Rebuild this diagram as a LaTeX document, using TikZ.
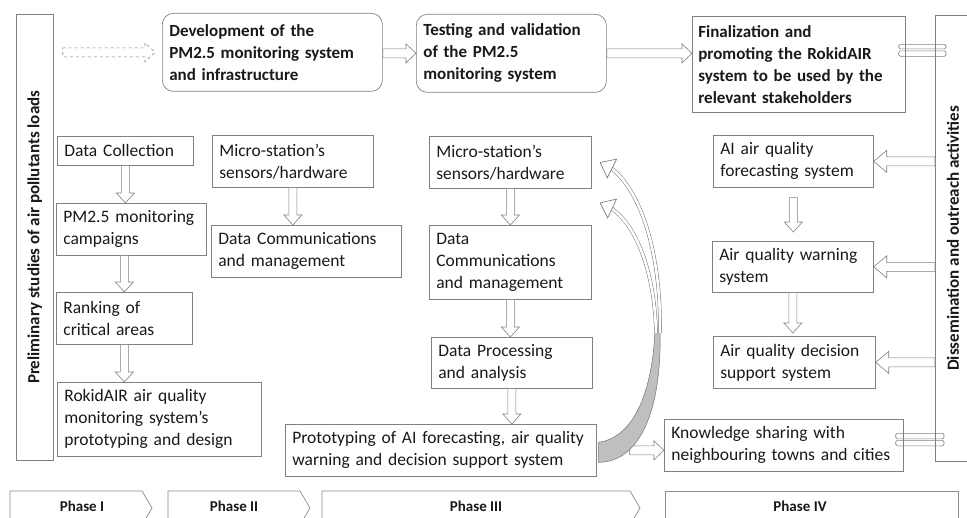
\documentclass[tikz,border=0pt]{standalone}
\usepackage{fontspec}
\setmainfont{Carlito}
\usepackage{graphicx}
\usetikzlibrary{arrows.meta,calc}

\tikzset{
  taskbox/.style={draw=black!50, line width=0.7pt, anchor=north west, align=left,
    inner xsep=7pt, inner ysep=3pt, text=black!90, font=\fontsize{17.5}{22}\selectfont,
    execute at begin node={\hyphenpenalty=10000}},
  stagebox/.style={taskbox, rounded corners=11pt, font=\fontsize{17}{22}\selectfont\bfseries},
  sidebox/.style={draw=black!50, line width=0.7pt, anchor=north west, inner sep=0pt,
    text=black!90, font=\fontsize{17}{20}\selectfont\bfseries},
  hollow/.style={draw=black!50, line width=0.6pt, fill=white},
  barline/.style={draw=black!50, line width=0.6pt, rounded corners=1.5pt},
  phaseline/.style={draw=black!45, line width=0.7pt},
  phaselabel/.style={text=black!90, font=\fontsize{15}{18}\selectfont\bfseries},
  bendarrow/.style={draw=black!55, line width=0.5pt, double=white, double distance=2.6pt},
  bendhead/.style={draw=black!55, line width=0.6pt, -{Triangle[length=14pt,width=22pt,fill=white]}},
}

% block arrows drawn between two anchors
\newcommand\hollowdown[2]{%
  \draw[hollow] let \p1=(#1), \p2=(#2) in
    (\x1-4pt,\y1) -- (\x1-4pt,\y2+10pt) -- (\x1-9pt,\y2+10pt) -- (\x1,\y2)
    -- (\x1+9pt,\y2+10pt) -- (\x1+4pt,\y2+10pt) -- (\x1+4pt,\y1) -- cycle;}
\newcommand\hollowright[3][]{%
  \draw[hollow,#1] let \p1=(#2), \p2=(#3) in
    (\x1,\y2+4.5pt) -- (\x2-10pt,\y2+4.5pt) -- (\x2-10pt,\y2+9.5pt) -- (\x2,\y2)
    -- (\x2-10pt,\y2-9.5pt) -- (\x2-10pt,\y2-4.5pt) -- (\x1,\y2-4.5pt) -- cycle;}
\newcommand\hollowleft[2]{%
  \draw[hollow] let \p1=(#1), \p2=(#2) in
    (\x1,\y2+4.5pt) -- (\x2+13pt,\y2+4.5pt) -- (\x2+13pt,\y2+11pt) -- (\x2,\y2)
    -- (\x2+13pt,\y2-11pt) -- (\x2+13pt,\y2-4.5pt) -- (\x1,\y2-4.5pt) -- cycle;}

\begin{document}
\begin{tikzpicture}[x=1pt,y=-1pt]
  \useasboundingbox (0,0) rectangle (967,518);

  % side bars
  \node[sidebox, minimum width=37pt, minimum height=446pt] (pre) at (16,14)
    {\rotatebox{90}{Preliminary studies of air pollutants loads}};
  \node[sidebox, minimum width=35pt, minimum height=446pt] (diss) at (935,15)
    {\rotatebox{90}{Dissemination and outreach activities}};

  % top row
  \node[stagebox, text width=206pt, minimum height=78pt] (dev) at (162,13)
    {Development of the\\PM2.5 monitoring system\\and infrastructure};
  \node[stagebox, text width=176pt, minimum height=78pt] (test) at (416,14)
    {Testing and validation\\of the PM2.5\\monitoring system};
  \node[taskbox, font=\fontsize{17}{22}\selectfont\bfseries, inner xsep=6pt,
    text width=201pt, minimum height=96pt] (final) at (692,16)
    {Finalization and\\promoting the RokidAIR\\system to be used by the\\relevant stakeholders};

  % phase I
  \node[taskbox, text width=122pt, minimum height=29pt] (collect) at (57,136) {Data Collection};
  \node[taskbox, text width=136pt, minimum height=52pt] (campaign) at (56,203) {PM2.5 monitoring\\campaigns};
  \node[taskbox, text width=122pt, minimum height=52pt] (rank) at (56,292) {Ranking of\\critical areas};
  \node[taskbox, text width=190pt, minimum height=74pt] (design) at (57,382)
    {RokidAIR air quality\\monitoring system’s\\prototyping and design};

  % phase II
  \node[taskbox, text width=147pt, minimum height=52pt] (sensorA) at (212,135) {Micro-station’s\\sensors/hardware};
  \node[taskbox, text width=176pt, minimum height=52pt] (commA) at (211,225) {Data Communications\\and management};

  % phase III
  \node[taskbox, text width=148pt, minimum height=52pt] (sensorB) at (429,136) {Micro-station’s\\sensors/hardware};
  \node[taskbox, text width=148pt, minimum height=74pt] (commB) at (429,225) {Data\\Communications\\and management};
  \node[taskbox, text width=147pt, minimum height=51pt] (process) at (431,337) {Data Processing\\and analysis};
  \node[taskbox, text width=297pt, minimum height=52pt] (proto) at (285,424)
    {Prototyping of AI forecasting, air quality\\warning and decision support system};

  % phase IV
  \node[taskbox, text width=146pt, minimum height=52pt] (forecast) at (713,135) {AI air quality\\forecasting system};
  \node[taskbox, text width=147pt, minimum height=51pt] (warning) at (712,241) {Air quality warning\\system};
  \node[taskbox, text width=148pt, minimum height=52pt] (decision) at (713,336) {Air quality decision\\support system};
  \node[taskbox, text width=225pt, minimum height=52pt] (share) at (664,419)
    {Knowledge sharing with\\neighbouring towns and cities};

  % flow along the top
  \hollowright[dashed]{$(pre.east |- dev.west)+(9,0)$}{$(dev.west)+(-7,0)$}
  \hollowright{dev.east}{test.west}
  \hollowright{test.east}{final.west |- test.east}

  % flow inside the columns
  \hollowdown{collect.south}{campaign.north}
  \hollowdown{campaign.south -| rank.north}{rank.north}
  \hollowdown{rank.south}{rank.south |- design.north}
  \hollowdown{sensorA.south}{commA.north}
  \hollowdown{sensorB.south}{commB.north}
  \hollowdown{commB.south}{process.north}
  \hollowdown{process.south}{proto.north -| process.south}
  \hollowdown{$(forecast.south)+(0,10)$}{$(warning.north)+(0,-9)$}
  \hollowdown{warning.south}{$(decision.north)+(0,-3)$}
  \hollowright{$(proto.east)+(33,0)$}{share.west |- proto.east}

  % dissemination
  \hollowleft{diss.west |- forecast.east}{forecast.east}
  \hollowleft{diss.west |- warning.east}{warning.east}
  \hollowleft{diss.west |- decision.east}{decision.east}
  \draw[barline] ($(final.east)+(-7,-20)$) rectangle ($(diss.west |- final.east)+(11,-15.5)$);
  \draw[barline] ($(final.east)+(-7,-13.5)$) rectangle ($(diss.west |- final.east)+(11,-8)$);
  \draw[barline] ($(share.east)+(-8,-12)$) rectangle ($(diss.west |- share.east)+(9,-6.5)$);
  \draw[barline] ($(share.east)+(-8,-5)$) rectangle ($(diss.west |- share.east)+(9,0.5)$);

  % feedback from the prototype
  \filldraw[fill=black!25, draw=black!55, line width=0.5pt]
    ($(proto.east)+(2,-8)$) .. controls (630,438) and (652,400) .. (655,330)
    -- (660,330) .. controls (662,410) and (640,462) .. ($(proto.east)+(2,12)$) -- cycle;
  \coordinate (neckA) at (611,168);
  \coordinate (neckB) at (611,208);
  \draw[bendarrow] (660,333) .. controls (661,250) and (640,190) .. (neckA);
  \draw[bendarrow] (656,333) .. controls (655,280) and (640,228) .. (neckB);
  \draw[bendhead] (neckA) -- ($(sensorB.east)+(8,0)$);
  \draw[bendhead] (neckB) -- ($(sensorB.south east)+(8,14)$);

  % phases
  \draw[phaseline] (10,525) |- (142,491) -- (152,508) -- (142,525);
  \draw[phaseline] (168,525) |- (300,491) -- (310,508) -- (300,525);
  \draw[phaseline] (322,525) |- (630,491) -- (640,508) -- (630,525);
  \draw[phaseline] (665,525) |- (958,491) -- (958,525);
  \node[phaselabel] (ph1) at (82,506) {Phase I};
  \node[phaselabel] (ph2) at (234,506) {Phase II};
  \node[phaselabel] (ph3) at (476,506) {Phase III};
  \node[phaselabel] (ph4) at (800,506) {Phase IV};
\end{tikzpicture}
\end{document}
